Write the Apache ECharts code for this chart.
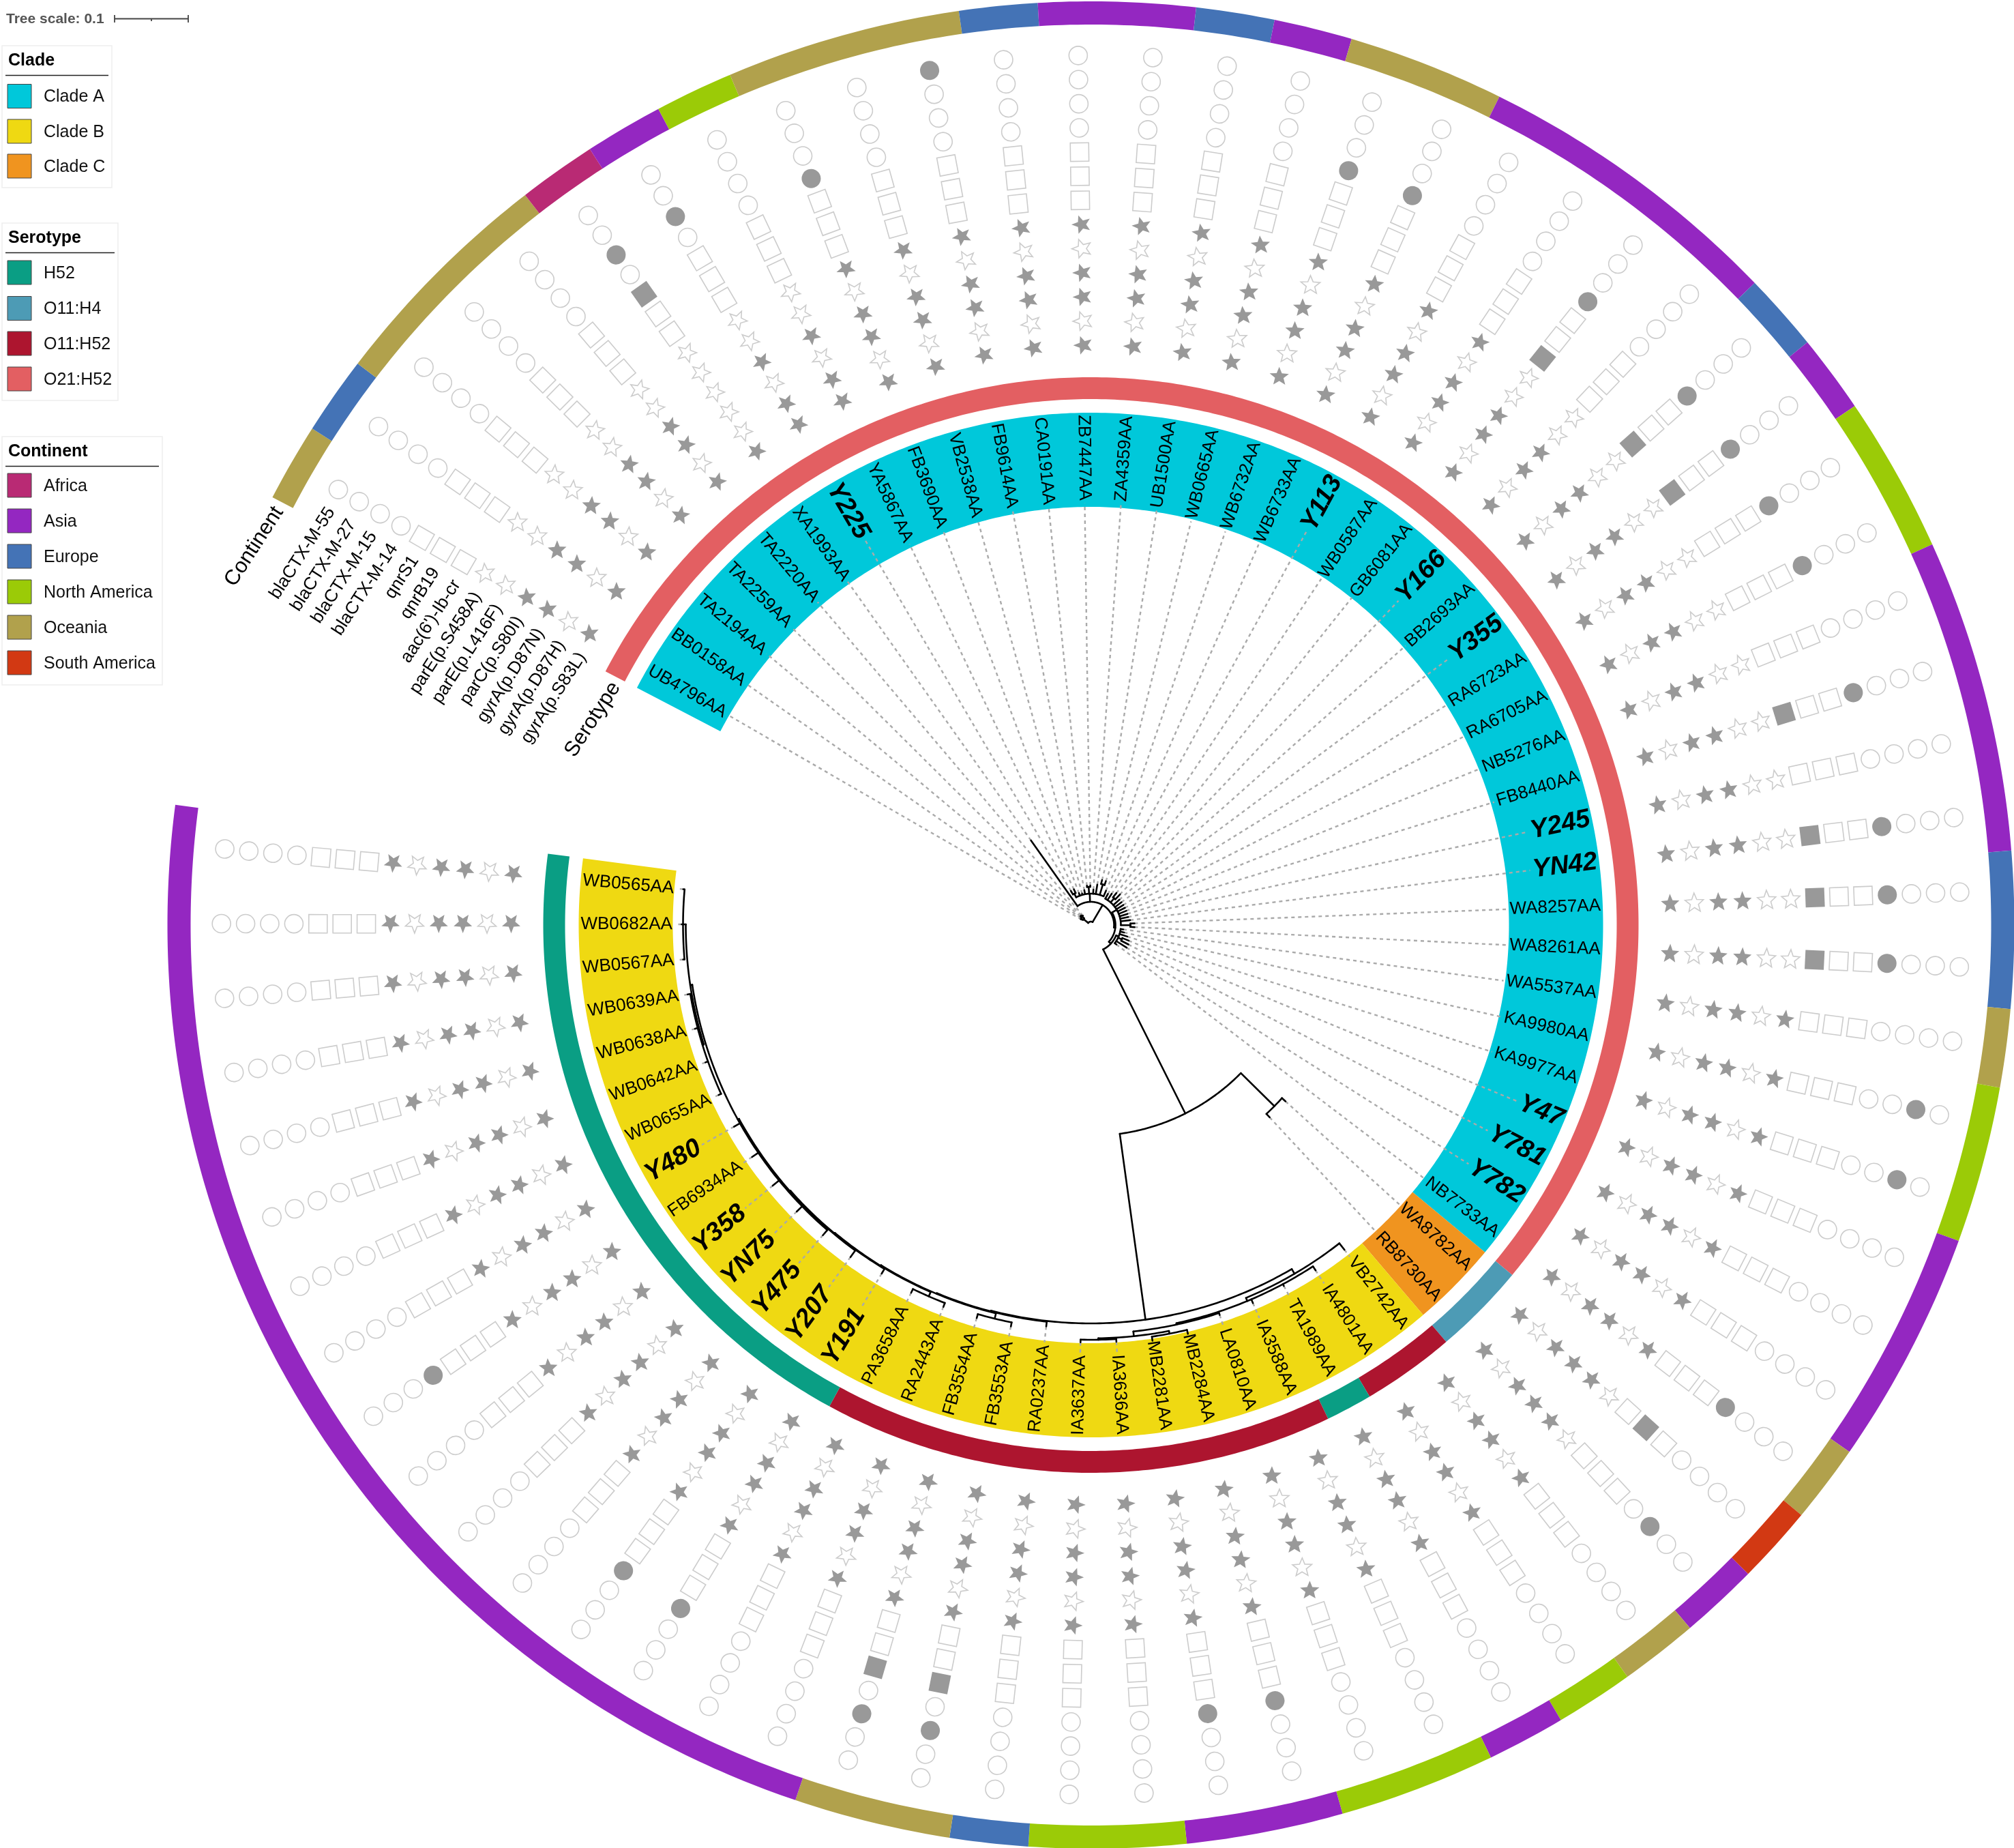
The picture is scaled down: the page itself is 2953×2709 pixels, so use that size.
<!DOCTYPE html>
<html>
<head>
<meta charset="utf-8">
<title>Circular tree</title>
<script src="https://cdn.jsdelivr.net/npm/echarts@6/dist/echarts.min.js"></script>
<style>
html, body { margin: 0; padding: 0; background: #fff; }
#chart { width: 2953px; height: 2709px; }
</style>
</head>
<body>
<div id="chart"></div>
<script>
// tips, clockwise from the open gap at the upper left
const tipNames = ['UB4796AA', 'BB0158AA', 'TA2194AA', 'TA2259AA', 'TA2220AA', 'XA1993AA', 'Y225', 'YA5867AA', 'FB3690AA', 'VB2538AA',
    'FB9614AA', 'CA0191AA', 'ZB7447AA', 'ZA4359AA', 'UB1500AA', 'WB0665AA', 'WB6732AA', 'WB6733AA', 'Y113', 'WB0587AA',
    'GB6081AA', 'Y166', 'BB2693AA', 'Y355', 'RA6723AA', 'RA6705AA', 'NB5276AA', 'FB8440AA', 'Y245', 'YN42',
    'WA8257AA', 'WA8261AA', 'WA5537AA', 'KA9980AA', 'KA9977AA', 'Y47', 'Y781', 'Y782', 'NB7733AA', 'WA8782AA',
    'RB8730AA', 'VB2742AA', 'IA4801AA', 'TA1989AA', 'IA3588AA', 'LA0810AA', 'MB2284AA', 'MB2281AA', 'IA3636AA', 'IA3637AA',
    'RA0237AA', 'FB3553AA', 'FB3554AA', 'RA2443AA', 'PA3658AA', 'Y191', 'Y207', 'Y475', 'YN75', 'Y358',
    'FB6934AA', 'Y480', 'WB0655AA', 'WB0642AA', 'WB0638AA', 'WB0639AA', 'WB0567AA', 'WB0682AA', 'WB0565AA'];

// one letter per tip
const cladeOfTip = 'AAAAAAAAAAAAAAAAAAAAAAAAAAAAAAAAAAAAAAACCBBBBBBBBBBBBBBBBBBBBBBBBBBBB';
const serotypeOfTip = 'UUUUUUUUUUUUUUUUUUUUUUUUUUUUUUUUUUUUUUUVVWWHWWWWWWWWWWWHHHHHHHHHHHHHH';
const continentOfTip = 'OEOOOFANOOOEAAEAOOAAAAEANNAAAAEEONNAAAOSAONANNAANNEOOAAAAAAAAAAAAAAAA';

const cladeNames = { A: 'Clade A', B: 'Clade B', C: 'Clade C' };
const serotypeNames = { H: 'H52', V: 'O11:H4', W: 'O11:H52', U: 'O21:H52' };
const continentNames = { F: 'Africa', A: 'Asia', E: 'Europe', N: 'North America', O: 'Oceania', S: 'South America' };

// columns from the centre outwards
const starColumns = ['gyrA(p.S83L)', 'gyrA(p.D87H)', 'gyrA(p.D87N)', 'parC(p.S80I)', 'parE(p.L416F)', 'parE(p.S458A)'];
const squareColumns = ['aac(6\')-Ib-cr', 'qnrB19', 'qnrS1'];
const circleColumns = ['blaCTX-M-14', 'blaCTX-M-15', 'blaCTX-M-27', 'blaCTX-M-55'];

// presence per tip: stars, squares, circles
const starRows = ['101100', '101100', '101100', '101100', '101100', '100000', '110100', '110100', '101101', '101101',
    '101101', '101101', '101101', '101101', '101101', '101101', '101101', '101101', '101101', '101101',
    '101100', '101100', '101100', '101100', '101100', '101100', '101100', '101100', '101100', '101100',
    '101100', '101100', '101101', '101101', '101101', '101101', '101101', '101101', '101101', '101110',
    '101110', '101101', '101101', '101101', '101101', '101101', '101101', '101101', '101101', '101101',
    '101101', '101101', '101101', '101101', '101101', '101101', '101101', '101101', '101101', '101101',
    '101101', '101101', '101101', '101101', '101101', '101101', '101101', '101101', '101101'];
const squareRows = ['000', '000', '000', '000', '000', '001', '000', '000', '000', '000',
    '000', '000', '000', '000', '000', '000', '000', '000', '000', '000',
    '100', '000', '100', '100', '000', '000', '000', '100', '000', '100',
    '100', '100', '000', '000', '000', '000', '000', '000', '000', '010',
    '000', '000', '000', '000', '000', '000', '000', '000', '000', '000',
    '000', '001', '001', '000', '000', '000', '000', '000', '000', '000',
    '000', '000', '000', '000', '000', '000', '000', '000', '000'];
const circleRows = ['0000', '0000', '0000', '0000', '0000', '0100', '0100', '0000', '1000', '0000',
    '0001', '0000', '0000', '0000', '0000', '0000', '1000', '1000', '0000', '0000',
    '1000', '0000', '1000', '1000', '1000', '1000', '0000', '1000', '0000', '1000',
    '1000', '1000', '0000', '0010', '0010', '0000', '0000', '0000', '1000', '0000',
    '0100', '0000', '0000', '0000', '0000', '0000', '1000', '1000', '0000', '0000',
    '0000', '0100', '0100', '0000', '0000', '1000', '1000', '0000', '0000', '0000',
    '1000', '0000', '0000', '0000', '0000', '0000', '0000', '0000', '0000'];

// distance from the root at which each tip ends
const tipDepth = [16, 18, 20, 20, 18, 152, 58, 58, 50, 48,
    52, 58, 58, 52, 60, 68, 68, 55, 52, 55,
    60, 62, 56, 56, 56, 56, 56, 56, 56, 58,
    64, 64, 48, 50, 56, 60, 62, 62, 47, 385,
    385, 604, 604, 600, 603, 602, 616, 616, 612, 612,
    592, 600, 600, 600, 600, 596, 601, 601, 602, 603,
    602, 601, 600, 600, 600, 600, 600, 600, 600];

// nested tree: [node depth, ...children], a plain number is a tip index
const cladeBTree = [584,
    [592, 41, [597, 42, 43, 44, [599, 45, [606, [610, 46, 47], [608, 48, 49]]]]],
    [585, 50, [586, [594, 51, 52], [587, [594, 53, 54], [588, 55, [589, 56,
        [591, 57, 58, 59, 60, 61,
            [594, [596, 62, 63, 64, 65], [598, 66, 67, 68]]]]]]]]];
const treeShape = [5,
    [14, [17, 0, 1], [18, 2, 3, 4]],
    [34, 5,
        [46, [52, 6, 7], 8, 9, 10, [56, 11, 12], 13, 14, [62, 15, 16], 17],
        [36,
            [44, 18, 19, [52, 20, 21], 22, 23, 24, 25, 26, 27, 28, 29, [58, 30, 31]],
            [40,
                [44, 32, 33, 34, [50, 35, 36], 37, 38],
                [309, [378, 39, 40], cladeBTree]]]]];

// ---- layout and colours ----
const CENTER = [1599.5, 1356];
const OUTER = 1354;
const TIP_STEP = 4.926;      // degrees between two tips
const FIRST_TIP = 210.05;    // clockwise from 3 o'clock
const AXIS_MIN = -2;
const RING = {
    clade: [613, 751],
    serotype: [771, 803],
    continent: [1320, 1354]
};
const LABEL_END = 748;
const COL_STEP = 35.4;
const COL_START = 850;
const cladeColors = { A: '#00c8da', B: '#efd912', C: '#f0941f' };
const serotypeColors = { H: '#0a9e84', V: '#4d9bb5', W: '#ad152f', U: '#e35f62' };
const continentColors = { F: '#b92a74', A: '#9427c1', E: '#4473b6', N: '#9bcb07', O: '#b1a14c', S: '#d23913' };
const ON = '#999999';
const OFF = '#cccccc';
const FONT = '"Liberation Sans", Arial, sans-serif';
const STAR = 'path://M50 0L62.9 32.2L97.6 34.5L70.9 56.8L79.4 90.5L50 72L20.6 90.5L29.1 56.8L2.4 34.5L37.1 32.2Z';

const chart = echarts.init(document.getElementById('chart'), null, { renderer: 'canvas' });

// ---- derived lists ----
const measure = document.createElement('canvas').getContext('2d');
function isBold(name) { return name.charAt(0) === 'Y' && name.slice(-2) !== 'AA'; }
function labelFont(name) {
    return isBold(name) ? 'italic bold 38px ' + FONT : '26px ' + FONT;
}
function labelInner(name) {
    measure.font = labelFont(name);
    return LABEL_END - measure.measureText(name).width - 4;
}

function runs(letters) {
    const out = [];
    for (let i = 0; i < letters.length; i++) {
        const last = out[out.length - 1];
        if (last && last.key === letters[i]) last.to = i + 0.5;
        else out.push({ key: letters[i], from: i - 0.5, to: i + 0.5 });
    }
    return out;
}

const treeEdges = [];
function walk(node) {
    if (typeof node === 'number') return { angle: node, depth: tipDepth[node] };
    const depth = node[0];
    const kids = node.slice(1).map(walk);
    const first = kids[0].angle;
    const last = kids[kids.length - 1].angle;
    treeEdges.push({ arc: true, depth: depth, from: first, to: last });
    kids.forEach(function (k) {
        treeEdges.push({ arc: false, from: depth, to: k.depth, angle: k.angle });
    });
    return { angle: (first + last) / 2, depth: depth };
}
walk(treeShape);

// ---- custom marks, everything goes through the polar axes ----
function arcPoints(api, depth, a0, a1) {
    const pts = [];
    const n = Math.max(1, Math.ceil(Math.abs(a1 - a0) / 0.1));
    for (let k = 0; k <= n; k++) {
        pts.push(api.coord([depth, a0 + (a1 - a0) * k / n]).slice(0, 2));
    }
    return pts;
}

function ringSeries(name, letters, colors, ring) {
    const list = runs(letters);
    return {
        type: 'custom', name: name, coordinateSystem: 'polar', silent: true, animation: false, z: 2,
        data: list.map(function (r) { return [ring[0], r.from]; }),
        renderItem: function (params, api) {
            const r = list[params.dataIndex];
            const pts = arcPoints(api, ring[1], r.from, r.to).concat(arcPoints(api, ring[0], r.to, r.from));
            return { type: 'polygon', shape: { points: pts }, style: { fill: colors[r.key], stroke: null } };
        }
    };
}

const leaderSeries = {
    type: 'custom', name: 'leaders', coordinateSystem: 'polar', silent: true, animation: false, z: 3,
    data: tipNames.map(function (n, i) { return [tipDepth[i], i]; }),
    renderItem: function (params, api) {
        const i = params.dataIndex;
        const a = api.coord([tipDepth[i], i]);
        const b = api.coord([labelInner(tipNames[i]), i]);
        return {
            type: 'line', shape: { x1: a[0], y1: a[1], x2: b[0], y2: b[1] },
            style: { stroke: '#aaaaaa', lineWidth: 2.4, lineDash: [5, 5] }
        };
    }
};

const labelSeries = {
    type: 'custom', name: 'labels', coordinateSystem: 'polar', silent: true, animation: false, z: 4,
    data: tipNames.map(function (n, i) { return [LABEL_END, i]; }),
    renderItem: function (params, api) {
        const name = tipNames[params.dataIndex];
        const p = api.coord([LABEL_END, params.dataIndex]);
        const right = Math.cos(p[3]) >= 0;
        return {
            type: 'text', x: p[0], y: p[1], rotation: right ? p[3] : p[3] - Math.PI,
            style: {
                text: name, x: 0, y: 0, font: labelFont(name), fill: '#000',
                textAlign: right ? 'right' : 'left', textVerticalAlign: 'middle'
            }
        };
    }
};

const treeSeries = {
    type: 'custom', name: 'tree', coordinateSystem: 'polar', silent: true, animation: false, z: 5,
    data: treeEdges.map(function (e) { return e.arc ? [e.depth, e.from] : [e.from, e.angle]; }),
    renderItem: function (params, api) {
        const e = treeEdges[params.dataIndex];
        const pts = e.arc ? arcPoints(api, e.depth, e.from, e.to)
            : [api.coord([e.from, e.angle]).slice(0, 2), api.coord([e.to, e.angle]).slice(0, 2)];
        return {
            type: 'polyline', shape: { points: pts },
            style: { stroke: '#000', lineWidth: 2.6, fill: null, lineCap: 'round', lineJoin: 'round' }
        };
    }
};

// ---- presence symbols ----
function rowRotate(value) { return -(FIRST_TIP + TIP_STEP * value[1]); }

function symbolSeries(name, symbol, size, rows, firstColumn, filled) {
    const data = [];
    rows.forEach(function (row, i) {
        for (let c = 0; c < row.length; c++) {
            if ((row[c] === '1') === filled) data.push([COL_START + COL_STEP * (firstColumn + c), i]);
        }
    });
    return {
        type: 'scatter', name: name, coordinateSystem: 'polar', silent: true, animation: false, z: 4,
        symbol: symbol, symbolSize: size, symbolRotate: rowRotate, data: data,
        itemStyle: filled ? { color: ON, borderWidth: 0, opacity: 1 }
            : { color: '#fff', borderColor: OFF, borderWidth: 1.6, opacity: 1 }
    };
}

// ---- column headings at the open end of the rings ----
const headings = [];
starColumns.concat(squareColumns, circleColumns).forEach(function (text, c) {
    const depth = COL_START + COL_STEP * c;
    headings.push({ text: text, depth: depth - 5, tip: -30 / (depth * TIP_STEP * Math.PI / 180), font: '26px ' + FONT });
});
headings.push({ text: 'Serotype', depth: 781, tip: -0.64, font: '31px ' + FONT });
headings.push({ text: 'Continent', depth: 1338, tip: -0.59, font: '31px ' + FONT });

const headingSeries = {
    type: 'custom', name: 'headings', coordinateSystem: 'polar', silent: true, animation: false, z: 4,
    data: headings.map(function (h) { return [h.depth, h.tip]; }),
    renderItem: function (params, api) {
        const h = headings[params.dataIndex];
        const p = api.coord([h.depth, h.tip]);
        return {
            type: 'text', x: p[0], y: p[1], rotation: 57 * Math.PI / 180,
            style: { text: h.text, x: 0, y: 0, font: h.font, fill: '#000', textAlign: 'right', textVerticalAlign: 'middle' }
        };
    }
};

// ---- legends ----
function legendBox(title, names, colors, top, boxW, boxH, itemTops) {
    const els = [
        { type: 'rect', shape: { x: 3, y: top, width: boxW, height: boxH }, style: { fill: '#fff', stroke: '#eeeeee', lineWidth: 1.5 } },
        { type: 'text', x: 12, y: top + 22, style: { text: title, font: 'bold 25px ' + FONT, fill: '#000', textVerticalAlign: 'middle' } },
        { type: 'line', shape: { x1: 8, y1: top + 43.5, x2: boxW - 2, y2: top + 43.5 }, style: { stroke: '#222', lineWidth: 1.5 } }
    ];
    Object.keys(names).forEach(function (k, n) {
        const y = itemTops[n];
        els.push({ type: 'rect', shape: { x: 11, y: y - 17, width: 35, height: 35 }, style: { fill: colors[k], stroke: '#444', lineWidth: 1 } });
        els.push({ type: 'text', x: 64, y: y + 2, style: { text: names[k], font: '25px ' + FONT, fill: '#111', textVerticalAlign: 'middle' } });
    });
    return els;
}

const legendElements = [].concat(
    legendBox('Clade', cladeNames, cladeColors, 67, 161, 208, [140.5, 192, 243]),
    legendBox('Serotype', serotypeNames, serotypeColors, 327, 170, 260, [399, 451.5, 503, 555]),
    legendBox('Continent', continentNames, continentColors, 640, 235, 364, [711, 763, 815, 867, 919, 971]),
    [
        { type: 'text', x: 9, y: 28, style: { text: 'Tree scale: 0.1', font: 'bold 21px ' + FONT, fill: '#555', textVerticalAlign: 'middle' } },
        { type: 'line', shape: { x1: 168, y1: 27.5, x2: 276, y2: 27.5 }, style: { stroke: '#444', lineWidth: 1.8 } },
        { type: 'line', shape: { x1: 168, y1: 22, x2: 168, y2: 33 }, style: { stroke: '#444', lineWidth: 1.8 } },
        { type: 'line', shape: { x1: 276, y1: 22, x2: 276, y2: 33 }, style: { stroke: '#444', lineWidth: 1.8 } },
        { type: 'line', shape: { x1: 222, y1: 27, x2: 222, y2: 31 }, style: { stroke: '#444', lineWidth: 1.8 } }
    ]
);

const option = {
    backgroundColor: '#ffffff',
    animation: false,
    polar: { center: CENTER, radius: OUTER },
    radiusAxis: { type: 'value', min: 0, max: OUTER, show: false },
    angleAxis: {
        type: 'value',
        min: AXIS_MIN,
        max: AXIS_MIN + 360 / TIP_STEP,
        startAngle: 360 - (FIRST_TIP + AXIS_MIN * TIP_STEP),
        clockwise: true,
        show: false
    },
    graphic: { elements: legendElements },
    series: [
        ringSeries('Clade', cladeOfTip, cladeColors, RING.clade),
        ringSeries('Serotype', serotypeOfTip, serotypeColors, RING.serotype),
        ringSeries('Continent', continentOfTip, continentColors, RING.continent),
        leaderSeries,
        labelSeries,
        treeSeries,
        headingSeries,
        symbolSeries('stars on', STAR, 27, starRows, 0, true),
        symbolSeries('stars off', STAR, 27, starRows, 0, false),
        symbolSeries('squares on', 'rect', 28, squareRows, 6, true),
        symbolSeries('squares off', 'rect', 27, squareRows, 6, false),
        symbolSeries('circles on', 'circle', 28, circleRows, 9, true),
        symbolSeries('circles off', 'circle', 27, circleRows, 9, false)
    ]
};

chart.setOption(option);
</script>
</body>
</html>
